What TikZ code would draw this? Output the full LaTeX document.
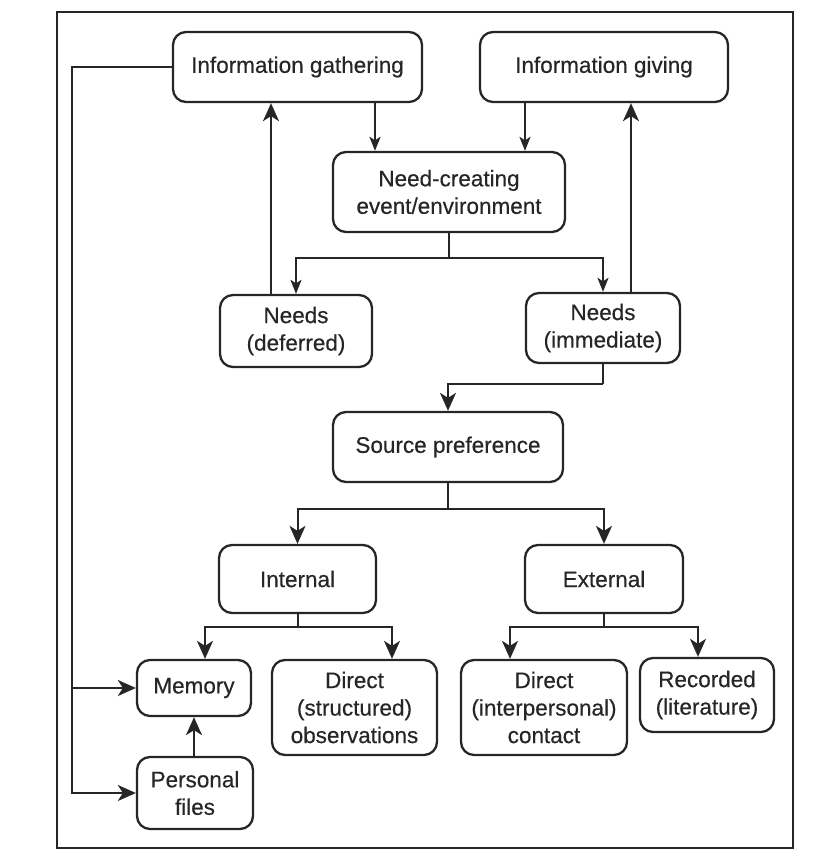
\documentclass[tikz,border=0pt]{standalone}
\usepackage{fontspec}
\setmainfont{Liberation Sans}[FakeBold=0.4]
\usetikzlibrary{arrows.meta}
\definecolor{ink}{HTML}{262626}
\begin{document}
\begin{tikzpicture}[x=1pt,y=-1pt, color=ink,
  box/.style={draw, line width=2.3pt, rounded corners=13pt, align=center,
    inner sep=0pt, text=ink, font=\fontsize{22.5}{27.5}\selectfont},
  plain/.style={line width=2pt},
  link/.style={plain, -{Stealth[length=18pt,width=16pt,inset=5pt]}},
  thin link/.style={plain, -{Stealth[length=14pt,width=11pt,inset=3.5pt]}}]
\useasboundingbox (0,0) rectangle (821,863);
\draw[line width=2.3pt] (57,12) rectangle (793,848);

% boxes
\node[box, minimum width=249pt, minimum height=70pt] (gather) at (297.5,67) {Information gathering};
\node[box, minimum width=248pt, minimum height=70pt] (give) at (604,67) {Information giving};
\node[box, minimum width=232pt, minimum height=80pt] (need) at (449,192) {Need-creating\\event/environment};
\node[box, minimum width=152pt, minimum height=72pt] (deferred) at (296,331) {Needs\\(deferred)};
\node[box, minimum width=154pt, minimum height=70pt] (immediate) at (603,328) {Needs\\(immediate)};
\node[box, minimum width=230pt, minimum height=70pt] (source) at (448,447) {Source preference};
\node[box, minimum width=157pt, minimum height=68pt] (internal) at (297.5,579) {Internal};
\node[box, minimum width=158pt, minimum height=68pt] (external) at (604,579) {External};
\node[box, minimum width=114pt, minimum height=56pt] (memory) at (194,688) {Memory};
\node[box, minimum width=165pt, minimum height=95pt] (dstruct) at (354.5,707.5) {Direct\\(structured)\\observations};
\node[box, minimum width=166pt, minimum height=95pt] (dinter) at (544,707.5) {Direct\\(interpersonal)\\contact};
\node[box, minimum width=134pt, minimum height=74pt] (recorded) at (707,695) {Recorded\\(literature)};
\node[box, minimum width=116pt, minimum height=72pt] (personal) at (195,793) {Personal\\files};

% column and row guides for the connectors
\coordinate (cGatherDown) at (375,0);
\coordinate (cGiveDown) at (525,0);
\coordinate (cDefUp) at (271,0);
\coordinate (cImmUp) at (631,0);
\coordinate (cMem) at (205,0);
\coordinate (cStruct) at (392,0);
\coordinate (cInter) at (510,0);
\coordinate (cRec) at (698,0);
\coordinate (cLoop) at (72,0);
\coordinate (rNeed) at (0,258);
\coordinate (rImm) at (0,384);
\coordinate (rSource) at (0,509);
\coordinate (rLower) at (0,627);

% top loop
\draw[thin link] (gather.south -| cGatherDown) -- (need.north -| cGatherDown);
\draw[thin link] (give.south -| cGiveDown) -- (need.north -| cGiveDown);
\draw[plain] (need.south) -- (need.south |- rNeed);
\draw[thin link] (need.south |- rNeed) -| (deferred.north);
\draw[thin link] (need.south |- rNeed) -| (immediate.north);
\draw[link] (deferred.north -| cDefUp) -- (gather.south -| cDefUp);
\draw[link] (immediate.north -| cImmUp) -- (give.south -| cImmUp);

% immediate needs to sources
\draw[plain] (immediate.south) -- (immediate.south |- rImm);
\draw[link] (immediate.south |- rImm) -| (source.north);
\draw[plain] (source.south) -- (source.south |- rSource);
\draw[link] (source.south |- rSource) -| (internal.north);
\draw[link] (source.south |- rSource) -| (external.north);

% internal and external sources
\draw[plain] (internal.south) -- (internal.south |- rLower);
\draw[link] (internal.south |- rLower) -| (memory.north -| cMem);
\draw[link] (internal.south |- rLower) -| (dstruct.north -| cStruct);
\draw[plain] (external.south) -- (external.south |- rLower);
\draw[link] (external.south |- rLower) -| (dinter.north -| cInter);
\draw[link] (external.south |- rLower) -| (recorded.north -| cRec);
\draw[link] (personal.north -| memory.south) -- (memory.south);

% feedback from information gathering
\draw[link] (gather.west) -| (personal.west -| cLoop) -- (personal.west);
\draw[link] (memory.west -| cLoop) -- (memory.west);
\end{tikzpicture}
\end{document}
